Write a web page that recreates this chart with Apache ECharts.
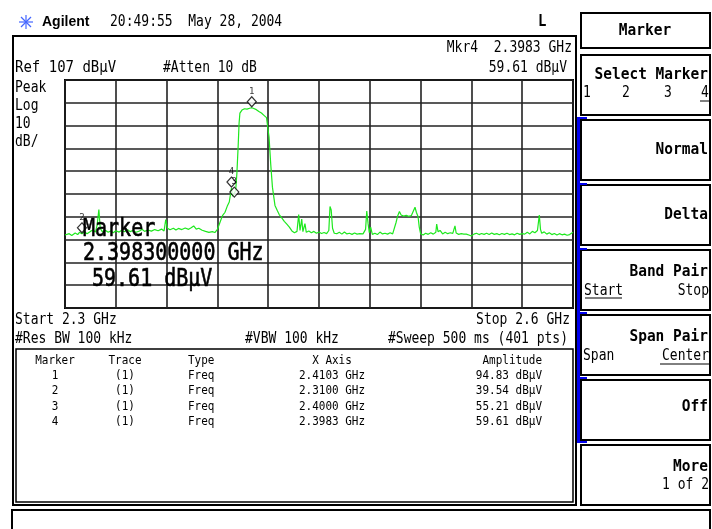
<!DOCTYPE html>
<html>
<head>
<meta charset="utf-8">
<script src="https://cdn.jsdelivr.net/npm/echarts@6/dist/echarts.min.js"></script>
<style>
  html, body { margin: 0; padding: 0; background: #fff; }
  #main { width: 712px; height: 529px; }
</style>
</head>
<body>
<div id="main"></div>
<script>
// trace 1: [GHz, dBuV]
var trace = [
  [2.3000, 39.0], [2.3025, 39.6], [2.3040, 38.8], [2.3060, 39.9], [2.3075, 39.2],
  [2.3085, 40.2], [2.3100, 39.54], [2.3115, 40.4], [2.3130, 39.6], [2.3150, 40.6],
  [2.3165, 41.2], [2.3180, 40.3], [2.3190, 43.5], [2.3200, 50.2], [2.3208, 42.0],
  [2.3220, 40.5], [2.3240, 41.0], [2.3255, 40.2], [2.3270, 40.8], [2.3285, 40.0],
  [2.3300, 40.9], [2.3320, 40.3], [2.3335, 41.1], [2.3350, 40.4], [2.3370, 41.3],
  [2.3385, 40.5], [2.3400, 41.0], [2.3420, 40.2], [2.3440, 40.8], [2.3455, 41.5],
  [2.3470, 40.6], [2.3490, 41.2], [2.3510, 40.7], [2.3530, 41.4], [2.3550, 40.9],
  [2.3570, 41.6], [2.3585, 40.8], [2.3595, 45.8], [2.3605, 42.0], [2.3620, 41.3],
  [2.3640, 42.0], [2.3655, 41.2], [2.3670, 41.9], [2.3690, 41.4], [2.3710, 42.1],
  [2.3730, 41.5], [2.3745, 42.2], [2.3760, 43.0], [2.3775, 41.6], [2.3790, 42.0],
  [2.3810, 41.1], [2.3830, 40.6], [2.3850, 40.2], [2.3870, 40.5], [2.3885, 40.1],
  [2.3900, 41.5], [2.3915, 44.5], [2.3930, 47.5], [2.3945, 49.0], [2.3960, 52.0],
  [2.3970, 53.5], [2.3983, 59.61], [2.3990, 56.0], [2.4000, 55.21], [2.4008, 58.5],
  [2.4015, 66.0], [2.4022, 77.0], [2.4028, 88.0], [2.4033, 92.5], [2.4045, 93.8],
  [2.4060, 94.4], [2.4075, 94.2], [2.4090, 94.6], [2.4103, 94.83], [2.4115, 94.5],
  [2.4130, 94.0], [2.4145, 93.2], [2.4160, 92.5], [2.4175, 91.5], [2.4190, 90.5],
  [2.4200, 90.0], [2.4205, 82.0], [2.4215, 70.0], [2.4225, 60.0], [2.4240, 52.0],
  [2.4255, 49.5], [2.4265, 48.0], [2.4280, 46.5], [2.4295, 45.0], [2.4310, 43.8],
  [2.4325, 42.5], [2.4340, 40.8], [2.4355, 40.0], [2.4370, 40.6], [2.4380, 48.0],
  [2.4388, 41.0], [2.4398, 46.0], [2.4405, 40.5], [2.4417, 44.0], [2.4425, 40.2],
  [2.4440, 40.8], [2.4455, 40.0], [2.4470, 40.6], [2.4485, 39.8], [2.4500, 40.3],
  [2.4515, 39.7], [2.4530, 40.1], [2.4545, 39.6], [2.4558, 41.0], [2.4565, 51.5],
  [2.4572, 50.0], [2.4580, 42.0], [2.4590, 39.8], [2.4605, 39.6], [2.4620, 40.2],
  [2.4635, 39.4], [2.4650, 40.3], [2.4665, 39.5], [2.4680, 39.8], [2.4695, 39.3],
  [2.4710, 39.9], [2.4725, 39.4], [2.4740, 39.6], [2.4760, 39.5], [2.4775, 41.5],
  [2.4782, 49.5], [2.4790, 44.0], [2.4797, 40.0], [2.4805, 42.5], [2.4815, 39.3],
  [2.4830, 39.8], [2.4845, 39.2], [2.4860, 40.3], [2.4875, 39.5], [2.4890, 39.8],
  [2.4905, 39.4], [2.4920, 40.0], [2.4935, 39.5], [2.4945, 40.2], [2.4955, 44.5],
  [2.4965, 47.5], [2.4975, 49.3], [2.4985, 47.8], [2.5000, 47.3], [2.5015, 47.6],
  [2.5030, 47.2], [2.5045, 47.5], [2.5055, 48.3], [2.5067, 51.2], [2.5075, 49.0],
  [2.5085, 47.0], [2.5092, 42.5], [2.5100, 39.6], [2.5115, 39.0], [2.5130, 39.8],
  [2.5145, 39.3], [2.5160, 40.0], [2.5175, 39.4], [2.5190, 40.2], [2.5195, 43.8],
  [2.5203, 40.5], [2.5215, 41.0], [2.5230, 39.5], [2.5245, 40.2], [2.5260, 39.6],
  [2.5275, 40.0], [2.5290, 39.7], [2.5303, 43.0], [2.5310, 39.9], [2.5325, 39.3],
  [2.5340, 39.6], [2.5355, 39.4], [2.5370, 39.4], [2.5385, 39.0], [2.5400, 38.6],
  [2.5415, 39.4], [2.5430, 39.8], [2.5445, 39.2], [2.5460, 39.7], [2.5475, 39.3],
  [2.5490, 39.8], [2.5505, 39.2], [2.5520, 39.9], [2.5535, 39.3], [2.5550, 39.6],
  [2.5565, 39.1], [2.5580, 39.7], [2.5595, 39.3], [2.5610, 39.8], [2.5625, 39.2],
  [2.5640, 39.5], [2.5655, 39.1], [2.5670, 39.8], [2.5685, 39.3], [2.5700, 39.6],
  [2.5715, 39.4], [2.5730, 40.2], [2.5745, 39.5], [2.5760, 40.6], [2.5775, 40.0],
  [2.5790, 41.0], [2.5801, 47.8], [2.5808, 41.5], [2.5815, 39.8], [2.5830, 40.4],
  [2.5845, 39.4], [2.5860, 40.0], [2.5875, 39.2], [2.5890, 39.7], [2.5905, 39.0],
  [2.5920, 39.6], [2.5935, 39.1], [2.5950, 39.4], [2.5965, 38.9], [2.5980, 39.2],
  [2.5990, 38.8], [2.6000, 40.2]
];

// marker table
var markerIds = ['1', '2', '3', '4'];
var markerFreq = [2.4103, 2.3100, 2.4000, 2.3983];
var markerAmp = [94.83, 39.54, 55.21, 59.61];

// screen settings
var startGHz = 2.3, stopGHz = 2.6, divX = 0.03;
var refLevel = 107, dbPerDiv = 10;

var MONO = '"DejaVu Sans Mono", monospace';
var BLUE = '#0000ee';

function txt(x, y, s, o) {
  o = o || {};
  return {
    type: 'text', z: o.z || 10,
    x: x, y: y, scaleY: o.sy || 1.15,
    style: {
      text: s, x: 0, y: 0,
      fill: o.fill || '#000',
      stroke: o.heavy ? '#000' : null, lineWidth: o.heavy || 0,
      font: (o.bold ? 'bold ' : '') + (o.size || 13) + 'px ' + (o.family || MONO),
      align: o.align || 'left',
      verticalAlign: 'middle'
    }
  };
}
function box(x, y, w, h, lw) {
  return {
    type: 'rect', z: 5,
    shape: { x: x, y: y, width: w, height: h },
    style: { fill: null, stroke: '#000', lineWidth: lw || 2 }
  };
}
function line(x1, y1, x2, y2, color, lw) {
  return {
    type: 'line', z: 6,
    shape: { x1: x1, y1: y1, x2: x2, y2: y2 },
    style: { stroke: color || '#000', lineWidth: lw || 1 }
  };
}

var g = [];

// header
var cx = 26, cy = 22;
[[0, 7], [7, 0], [5, 5], [5, -5]].forEach(function (d) {
  g.push(line(cx - d[0], cy - d[1], cx + d[0], cy + d[1], '#4466ff', 1.2));
});
g.push(txt(42, 22, 'Agilent', { bold: true, size: 14, sy: 1, family: '"Liberation Sans", Arial, sans-serif' }));
g.push(txt(110, 22, '20:49:55  May 28, 2004', { size: 13 }));
g.push(txt(538, 22, 'L', { bold: true, size: 14 }));

// frames
g.push(box(13, 36, 563, 469, 2));
g.push(box(16, 349, 557, 153, 1.5));
g.push(box(12, 510, 698, 30, 2));

// top annotations
g.push(txt(572, 48, 'Mkr4  ' + markerFreq[3].toFixed(4) + ' GHz', { align: 'right' }));
g.push(txt(567, 68, markerAmp[3].toFixed(2) + ' dBμV', { align: 'right' }));
g.push(txt(15, 68, 'Ref ' + refLevel + ' dBμV', { size: 14 }));
g.push(txt(163, 68, '#Atten 10 dB'));
g.push(txt(15, 88, 'Peak'));
g.push(txt(15, 106, 'Log'));
g.push(txt(15, 124, dbPerDiv + ''));
g.push(txt(15, 142, 'dB/'));

// bottom annotations
g.push(txt(15, 320, 'Start ' + startGHz + ' GHz'));
g.push(txt(570, 320, 'Stop ' + stopGHz + ' GHz', { align: 'right' }));
g.push(txt(15, 339, '#Res BW 100 kHz'));
g.push(txt(245, 339, '#VBW 100 kHz'));
g.push(txt(568, 339, '#Sweep 500 ms (401 pts)', { align: 'right' }));

// big marker readout
g.push(txt(83, 230, 'Marker', { size: 20, z: 100, sy: 1.22, heavy: 0.5 }));
g.push(txt(83, 254, markerFreq[3].toFixed(9) + ' GHz', { size: 20, z: 100, sy: 1.22, heavy: 0.5 }));
g.push(txt(92, 280, markerAmp[3].toFixed(2) + ' dBμV', { size: 20, z: 100, sy: 1.22, heavy: 0.5 }));

// marker table
g.push(txt(55, 361, 'Marker', { size: 11, align: 'center' }));
g.push(txt(125, 361, 'Trace', { size: 11, align: 'center' }));
g.push(txt(188, 361, 'Type', { size: 11 }));
g.push(txt(332, 361, 'X Axis', { size: 11, align: 'center' }));
g.push(txt(542, 361, 'Amplitude', { size: 11, align: 'right' }));
markerIds.forEach(function (id, i) {
  var y = 376 + i * 15.2;
  g.push(txt(55, y, id, { size: 11, align: 'center' }));
  g.push(txt(125, y, '(1)', { size: 11, align: 'center' }));
  g.push(txt(188, y, 'Freq', { size: 11 }));
  g.push(txt(332, y, markerFreq[i].toFixed(4) + ' GHz', { size: 11, align: 'center' }));
  g.push(txt(542, y, markerAmp[i].toFixed(2) + ' dBμV', { size: 11, align: 'right' }));
});

// softkeys
g.push(box(581, 13, 129, 35, 2));
g.push(txt(645, 31, 'Marker', { bold: true, size: 14.5, align: 'center' }));
var keyTops = [55, 120, 185, 250, 315, 380, 445];
keyTops.forEach(function (y) { g.push(box(581, y, 129, 60, 2)); });
g.push({ type: 'rect', z: 7, shape: { x: 577, y: 117, width: 3, height: 326 }, style: { fill: BLUE } });
[117, 183, 248, 312, 377, 441].forEach(function (y) {
  g.push({ type: 'rect', z: 7, shape: { x: 577, y: y, width: 10, height: 2 }, style: { fill: BLUE } });
});
g.push(txt(708, 75, 'Select Marker', { bold: true, size: 14.5, align: 'right' }));
g.push(txt(583, 93, '1'));
g.push(txt(622, 93, '2'));
g.push(txt(664, 93, '3'));
g.push(txt(701, 93, '4'));
g.push(line(700, 101, 709, 101));
g.push(txt(708, 150, 'Normal', { bold: true, size: 14.5, align: 'right' }));
g.push(txt(708, 215, 'Delta', { bold: true, size: 14.5, align: 'right' }));
g.push(txt(708, 272, 'Band Pair', { bold: true, size: 14.5, align: 'right' }));
g.push(txt(584, 291, 'Start'));
g.push(line(585, 298, 622, 298));
g.push(txt(709, 291, 'Stop', { align: 'right' }));
g.push(txt(708, 337, 'Span Pair', { bold: true, size: 14.5, align: 'right' }));
g.push(txt(583, 356, 'Span'));
g.push(txt(709, 356, 'Center', { align: 'right' }));
g.push(line(660, 364, 709, 364));
g.push(txt(708, 407, 'Off', { bold: true, size: 14.5, align: 'right' }));
g.push(txt(708, 467, 'More', { bold: true, size: 14.5, align: 'right' }));
g.push(txt(709, 485, '1 of 2', { align: 'right' }));

var markerData = markerIds.map(function (id, i) {
  return { name: id, value: [markerFreq[i], markerAmp[i]] };
});

var myChart = echarts.init(document.getElementById('main'));
var option = {
  backgroundColor: '#fff',
  animation: false,
  graphic: g,
  grid: {
    left: 65, top: 80, width: 508, height: 228,
    show: true, borderColor: '#000', borderWidth: 2, backgroundColor: 'transparent'
  },
  xAxis: {
    type: 'value',
    min: startGHz, max: stopGHz, interval: divX,
    axisLine: { show: false }, axisTick: { show: false }, axisLabel: { show: false },
    splitLine: { show: true, lineStyle: { color: '#222', width: 1.6 } }
  },
  yAxis: {
    type: 'value',
    min: refLevel - 10 * dbPerDiv, max: refLevel, interval: dbPerDiv,
    axisLine: { show: false }, axisTick: { show: false }, axisLabel: { show: false },
    splitLine: { show: true, lineStyle: { color: '#222', width: 1.6 } }
  },
  series: [{
    type: 'line',
    data: trace,
    showSymbol: false,
    lineStyle: { color: '#1ee81e', width: 1.2 },
    z: 3
  }, {
    type: 'scatter',
    data: markerData,
    symbol: 'diamond',
    symbolSize: [9, 10],
    symbolOffset: [0, -6],
    itemStyle: { color: '#fff', borderColor: '#000', borderWidth: 1.2 },
    label: {
      show: true, position: 'top', distance: 0,
      formatter: '{b}', color: '#000', fontSize: 9, fontFamily: MONO
    },
    z: 4
  }]
};
myChart.setOption(option);
</script>
</body>
</html>
